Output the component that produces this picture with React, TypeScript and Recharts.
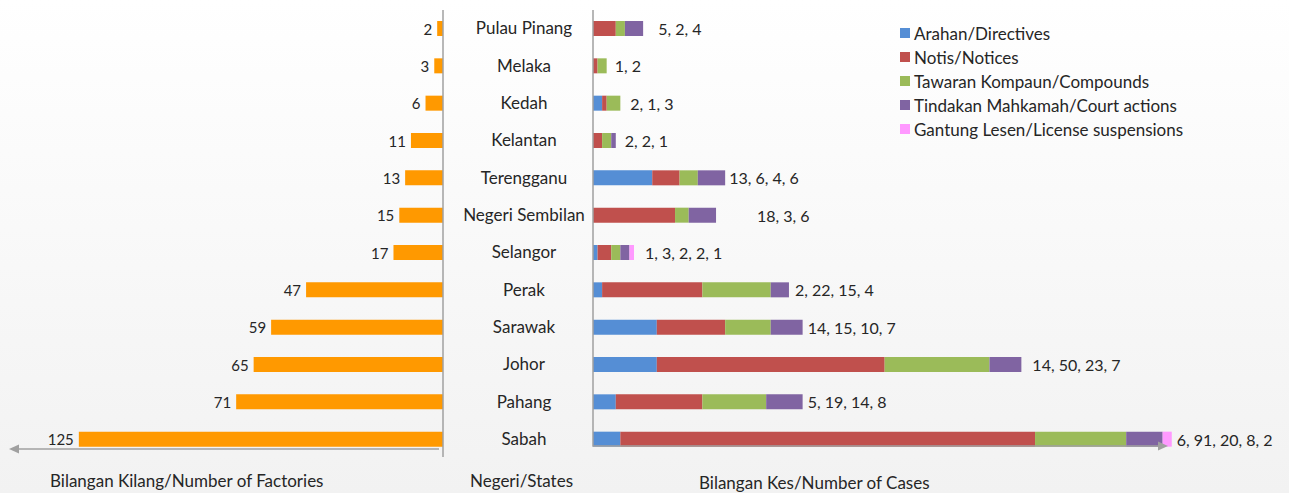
import { BarChart, Bar, XAxis, YAxis, LabelList } from "recharts";

const STATES = [
  "Pulau Pinang",
  "Melaka",
  "Kedah",
  "Kelantan",
  "Terengganu",
  "Negeri Sembilan",
  "Selangor",
  "Perak",
  "Sarawak",
  "Johor",
  "Pahang",
  "Sabah",
];
const FACTORIES = [2, 3, 6, 11, 13, 15, 17, 47, 59, 65, 71, 125];
const ARAHAN = [0, 0, 2, 0, 13, 0, 1, 2, 14, 14, 5, 6];
const NOTIS = [5, 1, 1, 2, 6, 18, 3, 22, 15, 50, 19, 91];
const KOMPAUN = [2, 2, 3, 2, 4, 3, 2, 15, 10, 23, 14, 20];
const MAHKAMAH = [4, 0, 0, 1, 6, 6, 2, 4, 7, 7, 8, 8];
const GANTUNG = [0, 0, 0, 0, 0, 0, 1, 0, 0, 0, 0, 2];

const SERIES = [
  { key: "arahan", name: "Arahan/Directives", color: "#558ED5", values: ARAHAN },
  { key: "notis", name: "Notis/Notices", color: "#C0504D", values: NOTIS },
  { key: "kompaun", name: "Tawaran Kompaun/Compounds", color: "#9BBB59", values: KOMPAUN },
  { key: "mahkamah", name: "Tindakan Mahkamah/Court actions", color: "#8064A2", values: MAHKAMAH },
  { key: "gantung", name: "Gantung Lesen/License suspensions", color: "#FF99FF", values: GANTUNG },
];

const rows = STATES.map((state, i) => {
  const row: Record<string, any> = { state, factories: FACTORIES[i] };
  SERIES.forEach((s) => (row[s.key] = s.values[i]));
  return row;
});

// text after each stacked bar, and which series ends the bar
const caseLabel: Record<string, string> = {};
const lastSeries: Record<string, number> = {};
STATES.forEach((st, i) => {
  const vals = SERIES.map((s) => s.values[i]);
  caseLabel[st] = vals.filter((v) => v > 0).join(", ");
  vals.forEach((v, k) => {
    if (v > 0) lastSeries[st] = k;
  });
});

// gap between bar end and its text (the original places them by hand)
const LABEL_GAP: Record<string, number> = {
  "Pulau Pinang": 15,
  Melaka: 8,
  Kedah: 10,
  Kelantan: 9,
  Terengganu: 4,
  "Negeri Sembilan": 41,
  Selangor: 11,
  Perak: 6,
  Sarawak: 5,
  Johor: 11,
  Pahang: 5,
  Sabah: 5,
};

const FONT = "Lato, 'Open Sans', sans-serif";
const TEXT = "#262626";
const AXIS = "#A0A0A0";
const MARGIN = { top: 10, bottom: 35 };

function box(props: any) {
  const vb = props.viewBox ?? props;
  const x = vb.x ?? props.x;
  const w = vb.width ?? props.width ?? 0;
  const y = vb.y ?? props.y;
  const h = vb.height ?? props.height ?? 0;
  return { left: Math.min(x, x + w), right: Math.max(x, x + w), cy: y + h / 2 };
}

function FactoryLabel(props: any) {
  const b = box(props);
  return (
    <text x={b.left - 5} y={b.cy} textAnchor="end" dominantBaseline="central" fontSize={15} fill={TEXT} fontFamily={FONT}>
      {props.value}
    </text>
  );
}

function CaseLabel(props: any) {
  const st = props.value as string;
  if (lastSeries[st] !== props.seriesIndex) return null;
  const b = box(props);
  return (
    <text x={b.right + (LABEL_GAP[st] ?? 6)} y={b.cy} dominantBaseline="central" fontSize={16} fill={TEXT} fontFamily={FONT}>
      {caseLabel[st]}
    </text>
  );
}

function StateTick(props: any) {
  return (
    <text x={81} y={props.y - 1} textAnchor="middle" dominantBaseline="central" fontSize={17} fill={TEXT} fontFamily={FONT}>
      {props.payload.value}
    </text>
  );
}

export default function App() {
  return (
    <div
      style={{
        position: "relative",
        width: 1289,
        height: 493,
        background: "linear-gradient(#ffffff, #f2f2f2)",
        fontFamily: FONT,
        overflow: "hidden",
      }}
    >
      <style>{"body{margin:0}"}</style>

      <div style={{ position: "absolute", left: 0, top: 0 }}>
        <BarChart layout="vertical" width={450} height={493} data={rows} margin={{ ...MARGIN, left: 6, right: 7 }}>
          <XAxis type="number" domain={[0, 150]} reversed hide />
          <YAxis type="category" dataKey="state" hide />
          <Bar dataKey="factories" fill="#FF9900" barSize={15} isAnimationActive={false}>
            <LabelList dataKey="factories" content={FactoryLabel} />
          </Bar>
        </BarChart>
      </div>

      <div style={{ position: "absolute", left: 443, top: 0 }}>
        <BarChart layout="vertical" width={846} height={493} data={rows} margin={{ ...MARGIN, left: 0, right: 58 }}>
          <XAxis type="number" domain={[0, 140]} hide />
          <YAxis type="category" dataKey="state" width={150} axisLine={false} tickLine={false} tick={StateTick} />
          {SERIES.map((s, i) => (
            <Bar key={s.key} dataKey={s.key} name={s.name} stackId="cases" fill={s.color} barSize={15} isAnimationActive={false}>
              <LabelList dataKey="state" content={(p: any) => <CaseLabel {...p} seriesIndex={i} />} />
            </Bar>
          ))}
        </BarChart>
      </div>

      <svg width={1289} height={493} style={{ position: "absolute", left: 0, top: 0, pointerEvents: "none" }}>
        <line x1={443} y1={10} x2={443} y2={457} stroke={AXIS} strokeWidth={1.5} />
        <line x1={439} y1={449} x2={18} y2={449} stroke={AXIS} strokeWidth={1.5} />
        <polygon points="9,449 19,444.5 19,453.5" fill={AXIS} />
        <path d="M593 10 V446 H1158" fill="none" stroke={AXIS} strokeWidth={1.5} />
        <polygon points="1168,446 1158,441.5 1158,450.5" fill={AXIS} />
        <text x={50} y={487} fontSize={17} fill={TEXT} fontFamily={FONT}>
          Bilangan Kilang/Number of Factories
        </text>
        <text x={470} y={487} fontSize={17} fill={TEXT} fontFamily={FONT}>
          Negeri/States
        </text>
        <text x={699} y={489} fontSize={17} fill={TEXT} fontFamily={FONT}>
          Bilangan Kes/Number of Cases
        </text>
        {SERIES.map((s, i) => (
          <g key={s.key}>
            <rect x={900} y={28 + i * 24} width={10} height={10} fill={s.color} />
            <text x={914} y={33 + i * 24} dominantBaseline="central" fontSize={17} fill={TEXT} fontFamily={FONT}>
              {s.name}
            </text>
          </g>
        ))}
      </svg>
    </div>
  );
}
